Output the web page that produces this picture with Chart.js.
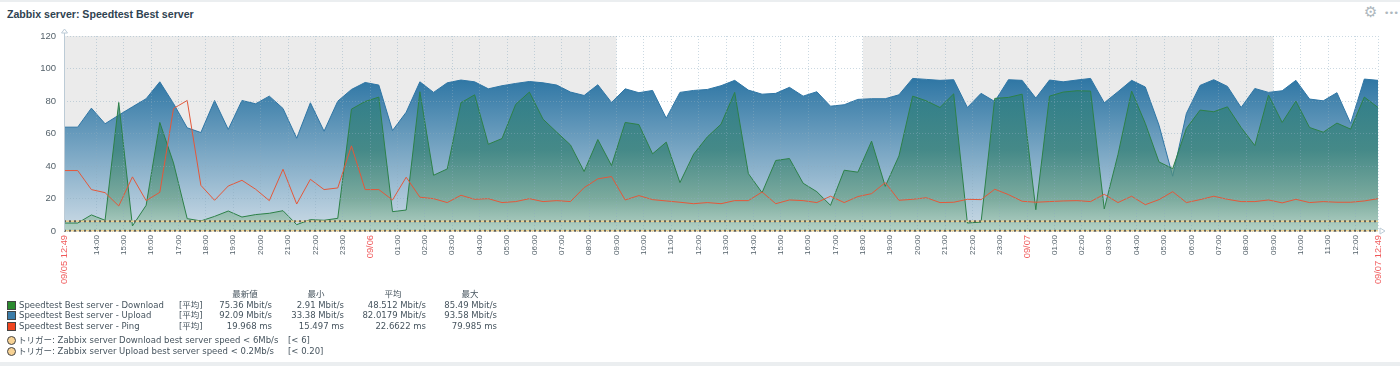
<!DOCTYPE html>
<html>
<head>
<meta charset="utf-8">
<title>Speedtest Best server</title>
<script src="https://cdn.jsdelivr.net/npm/chart.js@4"></script>
<style>
    html, body { margin: 0; padding: 0; background: #fff; overflow: hidden; }
    body { width: 1400px; height: 366px; position: relative; font-family: 'DejaVu Sans', 'Noto Sans CJK JP', sans-serif; color: #46545e; }
    canvas { position: absolute; left: 0; top: 0; }
    .band { position: absolute; left: 0; width: 1400px; background: #ebeef0; }
    .title { position: absolute; left: 7px; top: 8px; font: bold 10.6px 'Liberation Sans', Arial, sans-serif; color: #2f4351; }
    .gear { position: absolute; left: 1364px; top: 3px; font-size: 15px; line-height: 18px; font-weight: bold; color: #aeb7bd; }
    .dots { position: absolute; left: 1384px; top: 6px; font-size: 9px; line-height: 14px; letter-spacing: -0.5px; color: #aeb7bd; }
    .cell { position: absolute; font-size: 8.5px; line-height: 11px; white-space: nowrap; }
    .num { text-align: right; }
    .swatch { position: absolute; left: 7px; width: 9px; height: 9px; border: 1px solid #444; box-sizing: border-box; }
    .dot { position: absolute; left: 7px; width: 9px; height: 9px; border-radius: 50%; background: #f7d294; border: 1px solid #444; box-sizing: border-box; }
</style>
</head>
<body>
<div class="band" style="top:0;height:2px"></div>
<div class="band" style="top:362px;height:4px"></div>
<div class="title">Zabbix server: Speedtest Best server</div>
<div class="gear">⚙</div>
<div class="dots">•••</div>
<canvas id="graph" width="1400" height="366"></canvas>
<div id="legend"></div>
<script>
// half-hourly samples, hours since 09/05 12:49
const download = [4.9, 4.9, 9.9, 6.6, 79.1, 3.1, 15.8, 66.8, 41.9, 7.6, 6.2, 9, 12.3, 8.6, 10.1, 10.9, 12.5, 3.9, 7, 6.6, 7.8, 75, 79.7, 82.4, 11.9, 12.9, 85.7, 34.3, 38.2, 78.9, 83.8, 53.4, 56.9, 77.9, 85.5, 68.8, 60.8, 53, 36.6, 56.3, 40.3, 66.8, 65.5, 47.5, 54.7, 29.8, 47.3, 57.9, 65.7, 85.3, 35.3, 23.6, 43.4, 44.6, 29.4, 24.2, 15.8, 37.4, 36.2, 55.3, 27.5, 46.2, 83, 80.1, 76, 84.4, 4.9, 5.5, 81.6, 82.2, 84.2, 13.1, 83, 85.5, 86.3, 86.1, 13.6, 47, 86.1, 66.2, 42.5, 38.4, 63.1, 74.4, 73.4, 76.4, 63.7, 52.6, 83.6, 66.8, 79.9, 63.7, 60.8, 66.4, 62.7, 82.4, 76];
const upload = [63.9, 63.9, 75.6, 66, 71.3, 76.4, 81.4, 91.8, 78.5, 63.5, 60.6, 80.3, 62.5, 80.3, 78.3, 83, 75.4, 57.1, 78.9, 61.4, 79.9, 87.1, 91.4, 89.8, 61.8, 73.1, 91.8, 85.3, 91.2, 92.9, 91.8, 87.5, 89.4, 90.8, 92, 91.2, 89.8, 85.5, 83.4, 90, 79.1, 87.5, 85.1, 86.5, 69.4, 85.3, 86.5, 87.1, 89.4, 92.7, 86.7, 84.2, 84.7, 88.4, 83, 85.7, 76.8, 77.7, 81, 81.4, 81.4, 83.8, 93.9, 93.3, 92.7, 93.1, 76, 84.7, 79.7, 93.1, 92.7, 81.8, 92.9, 91.8, 92.9, 93.9, 78.9, 85.7, 92.7, 88.6, 65.1, 33.7, 72.3, 89.6, 93.1, 89, 76, 87.7, 85.3, 86.3, 92.7, 81.2, 80.1, 85.1, 66.2, 93.5, 92.7];
const ping = [37.2, 37.2, 25.5, 23.6, 15.4, 33.3, 18.7, 23.8, 75.4, 80.3, 28.1, 18.9, 27.7, 31.2, 25.7, 18.7, 38, 16.6, 31.8, 25.5, 26.5, 52.4, 25.5, 25.5, 19.1, 33.1, 20.8, 19.9, 17.5, 22, 19.5, 19.9, 17.5, 18.1, 19.9, 18.1, 18.7, 18.1, 26.7, 32.1, 33.5, 19.1, 21.8, 19.3, 18.5, 17.7, 16.8, 17.5, 16.8, 18.7, 18.7, 24, 16.8, 19.1, 18.7, 17.5, 21.4, 17.5, 21.2, 23, 29.8, 18.9, 19.5, 20.5, 17.5, 17.7, 19.5, 19.3, 25.7, 22.4, 18.3, 17.7, 18.1, 18.5, 18.7, 18.1, 22.6, 17.5, 21.4, 16.2, 19.3, 24.2, 17.5, 19.3, 21.4, 19.5, 18.1, 18.1, 19.1, 17.3, 19.5, 17.5, 18.1, 17.7, 17.7, 18.5, 19.9];

const triggerDownload = 6;
const triggerUpload = 0.2;

const xTickLabels = ['09/05 12:49', '14:00', '15:00', '16:00', '17:00', '18:00', '19:00', '20:00', '21:00', '22:00', '23:00', '09/06', '01:00', '02:00', '03:00', '04:00', '05:00', '06:00', '07:00', '08:00', '09:00', '10:00', '11:00', '12:00', '13:00', '14:00', '15:00', '16:00', '17:00', '18:00', '19:00', '20:00', '21:00', '22:00', '23:00', '09/07', '01:00', '02:00', '03:00', '04:00', '05:00', '06:00', '07:00', '08:00', '09:00', '10:00', '11:00', '12:00', '09/07 12:49'];
const redTicks = ['09/05 12:49', '09/06', '09/07', '09/07 12:49'];

// non working time, in hours since the start
const shadedFrom = [0, 29.1833];
const shadedTo = [20.1833, 44.1833];

const legendSeries = ['Speedtest Best server - Download', 'Speedtest Best server - Upload', 'Speedtest Best server - Ping'];
const legendColors = ['#2b8a2f', '#3a7ca8', '#f0451f'];
const legendLast = ['75.36 Mbit/s', '92.09 Mbit/s', '19.968 ms'];
const legendMin = ['2.91 Mbit/s', '33.38 Mbit/s', '15.497 ms'];
const legendAvg = ['48.512 Mbit/s', '82.0179 Mbit/s', '22.6622 ms'];
const legendMax = ['85.49 Mbit/s', '93.58 Mbit/s', '79.985 ms'];
const legendHeads = ['最新値', '最小', '平均', '最大'];
const headCenters = [245, 316, 393, 470];
const triggerNames = ['トリガー: Zabbix server Download best server speed < 6Mb/s', 'トリガー: Zabbix server Upload best server speed < 0.2Mb/s'];
const triggerLimits = ['[< 6]', '[< 0.20]'];

const toPoints = values => values.map((v, i) => ({ x: i / 2, y: v }));
const flatLine = v => [{ x: 0, y: v }, { x: 48, y: v }];

function gradient(chart, stops) {
    const y = chart.scales.y;
    if (!y || !isFinite(y.getPixelForValue(94))) return stops[0][1];
    const g = chart.ctx.createLinearGradient(0, y.getPixelForValue(94), 0, y.getPixelForValue(0));
    stops.forEach(s => g.addColorStop(s[0], s[1]));
    return g;
}
const uploadStops = [[0, '#2e76a4'], [1, '#ccdbe6']];
const downloadStops = [[0, 'rgba(40,124,125,0.68)'], [0.47, 'rgba(52,128,116,0.75)'], [0.79, 'rgba(104,159,133,0.7)'], [1, 'rgba(167,205,181,0.65)']];

const backdrop = {
    id: 'backdrop',
    beforeDraw(chart) {
        const { ctx, scales: { x, y } } = chart;
        ctx.save();
        ctx.fillStyle = '#ebebeb';
        shadedFrom.forEach((from, i) => {
            const left = x.getPixelForValue(from);
            ctx.fillRect(left, y.top, x.getPixelForValue(shadedTo[i]) - left, y.bottom - y.top);
        });
        ctx.restore();
    },
    afterDraw(chart) {
        // y axis line and the little arrows at the axis ends
        const { ctx, scales: { x, y } } = chart;
        ctx.save();
        ctx.strokeStyle = '#bccbd6';
        ctx.fillStyle = '#fff';
        ctx.beginPath();
        ctx.moveTo(x.left + 0.5, y.top - 3);
        ctx.lineTo(x.left + 0.5, y.bottom);
        ctx.stroke();
        ctx.beginPath();
        ctx.moveTo(x.left - 2.5, y.top - 3);
        ctx.lineTo(x.left + 0.5, y.top - 7);
        ctx.lineTo(x.left + 3.5, y.top - 3);
        ctx.closePath();
        ctx.fill();
        ctx.stroke();
        ctx.beginPath();
        ctx.moveTo(x.right + 2, y.bottom - 3);
        ctx.lineTo(x.right + 7, y.bottom);
        ctx.lineTo(x.right + 2, y.bottom + 3);
        ctx.closePath();
        ctx.fill();
        ctx.stroke();
        ctx.restore();
    }
};

function triggerSets(value, order) {
    return [
        { data: flatLine(value), borderColor: 'rgba(70,75,78,0.85)', borderWidth: 2, borderDash: [2, 3], order: order, clip: false },
        { data: flatLine(value), borderColor: '#ecd08f', borderWidth: 1.5, order: order + 1, clip: false }
    ];
}

new Chart(document.getElementById('graph'), {
    type: 'line',
    plugins: [backdrop],
    data: {
        datasets: [
            ...triggerSets(triggerDownload, 1),
            ...triggerSets(triggerUpload, 3),
            { data: toPoints(ping), borderColor: '#e4583a', borderWidth: 1, order: 5 },
            {
                data: toPoints(download), borderColor: '#2d8148', borderWidth: 1, order: 6, fill: 'origin',
                backgroundColor: c => gradient(c.chart, downloadStops)
            },
            {
                data: toPoints(upload), borderColor: '#2f76a5', borderWidth: 1, order: 7, fill: 'origin',
                backgroundColor: c => gradient(c.chart, uploadStops)
            }
        ]
    },
    options: {
        responsive: false,
        animation: false,
        layout: { padding: { top: 36, right: 22, left: 0, bottom: 0 } },
        elements: { point: { radius: 0 }, line: { tension: 0 } },
        plugins: { legend: { display: false }, tooltip: { enabled: false } },
        scales: {
            x: {
                type: 'linear',
                min: 0,
                max: 48,
                afterBuildTicks: axis => {
                    axis.ticks = xTickLabels.map((t, i) => {
                        if (i === 0) return { value: 0 };
                        if (i === xTickLabels.length - 1) return { value: 48 };
                        return { value: 71 / 60 + i - 1 };
                    });
                },
                afterFit: axis => { axis.height = 135; },
                grid: { color: 'rgba(140,170,190,0.45)', z: 1, tickLength: 0, drawTicks: false },
                border: { display: false, dash: [1, 2] },
                ticks: {
                    autoSkip: false,
                    maxRotation: 90,
                    minRotation: 90,
                    padding: 4,
                    font: c => ({ family: 'Liberation Sans', size: redTicks.includes(xTickLabels[c.index]) ? 9.3 : 8 }),
                    color: c => redTicks.includes(xTickLabels[c.index]) ? '#f0595a' : '#55626b',
                    callback: (v, i) => xTickLabels[i]
                }
            },
            y: {
                min: 0,
                max: 120,
                afterFit: axis => { axis.width = 64; },
                grid: { color: 'rgba(140,170,190,0.45)', z: 1, drawTicks: false },
                border: { display: false, dash: [1, 2] },
                ticks: {
                    stepSize: 20,
                    padding: 8,
                    font: { family: 'Liberation Sans', size: 9.5 },
                    color: '#55626b'
                }
            }
        }
    }
});

// legend below the graph, plain html text
const legend = document.getElementById('legend');
function cell(text, css, cls) {
    const el = document.createElement('div');
    el.className = cls || 'cell';
    el.textContent = text;
    el.style.cssText = css;
    legend.appendChild(el);
}
const rowTops = [300, 310, 321];
const numRights = [272, 344, 426, 497];
const numCols = [legendLast, legendMin, legendAvg, legendMax];
legendHeads.forEach((h, i) => {
    cell(h, `left:${headCenters[i] - 50}px;width:100px;text-align:center;top:289px;`);
});
legendSeries.forEach((name, r) => {
    cell('', `top:${rowTops[r] + 1}px;background:${legendColors[r]}`, 'swatch');
    cell(name, `left:19px;top:${rowTops[r]}px`);
    cell('[平均]', `left:179px;top:${rowTops[r]}px`);
    numCols.forEach((col, c) => {
        cell(col[r], `left:${numRights[c] - 120}px;width:120px;top:${rowTops[r]}px`, 'cell num');
    });
});
triggerNames.forEach((name, r) => {
    const top = 335 + r * 11;
    cell('', `top:${top + 1}px`, 'dot');
    cell(name, `left:18px;top:${top}px`);
    cell(triggerLimits[r], `left:288px;top:${top}px`);
});
</script>
</body>
</html>
